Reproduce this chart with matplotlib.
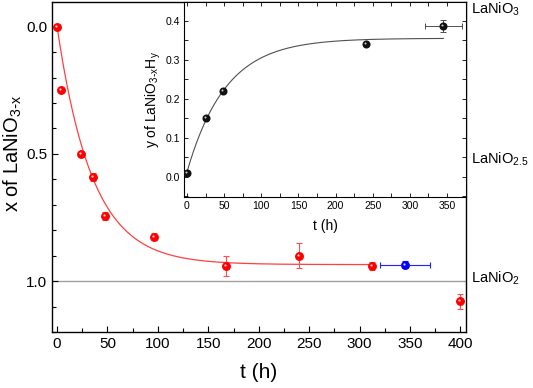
import matplotlib
matplotlib.use("Agg")
import matplotlib.pyplot as plt
import matplotlib.transforms as mtransforms
from matplotlib.ticker import MultipleLocator
import numpy as np

plt.rcParams['font.family'] = ['Liberation Sans', 'DejaVu Sans']
plt.rcParams['mathtext.default'] = 'regular'

# main panel: x of LaNiO3-x vs time
t_red = [0, 4, 24, 36, 48, 96, 168, 240, 312, 400]
x_red = [0.0, 0.25, 0.50, 0.59, 0.745, 0.825, 0.94, 0.90, 0.94, 1.08]
xerr_red = [0.0, 0.0, 0.0, 0.015, 0.015, 0.015, 0.04, 0.05, 0.015, 0.03]

t_blue = [345]
x_blue = [0.935]
terr_blue = [25]
xerr_blue = [0.015]

# exponential fit shown in the paper
fit_A = 0.935
fit_tau = 35.0
fit_tmax = 312

# inset: y of LaNiO3-xHy vs time
t_ins = [0, 25, 49, 241, 345]
y_ins = [0.01, 0.151, 0.22, 0.341, 0.387]
terr_ins = [0, 0, 0, 0, 25]
yerr_ins = [0, 0, 0, 0, 0.016]

ins_y0 = 0.012
ins_A = 0.343
ins_tau = 52.0
ins_tmax = 345

phases = ['LaNiO$_3$', 'LaNiO$_{2.5}$', 'LaNiO$_2$']
phase_pos = [-0.07, 0.52, 0.99]


def balls(ax, fig, x, y, color, ms):
    # shaded sphere look: coloured marker + small white highlight
    ax.plot(x, y, 'o', color=color, mec=color, ms=ms, zorder=5)
    tr = mtransforms.offset_copy(ax.transData, fig=fig, x=-1.0, y=1.0, units='dots')
    ax.plot(x, y, 'o', color='white', mec='none', ms=ms * 0.3, alpha=0.8, transform=tr, zorder=6)


fig = plt.figure(figsize=(5.33, 3.88), dpi=100)
ax = fig.add_axes([0.0976, 0.1443, 0.7767, 0.8505])

ax.axhline(1.0, color='#a0a0a0', lw=1.0, zorder=1)

tt = np.linspace(0, fit_tmax, 300)
ax.plot(tt, fit_A * (1 - np.exp(-tt / fit_tau)), color='#ff4040', lw=0.9, zorder=2)

ax.errorbar(t_red, x_red, yerr=xerr_red, fmt='none', ecolor='#ff5050', elinewidth=0.8,
            capsize=2.5, capthick=0.8, zorder=3)
ax.errorbar(t_blue, x_blue, xerr=terr_blue, yerr=xerr_blue, fmt='none', ecolor='#2020ff',
            elinewidth=0.8, capsize=2.5, capthick=0.8, zorder=3)
balls(ax, fig, t_red, x_red, '#ff0000', 5.4)
balls(ax, fig, t_blue, x_blue, '#0000ff', 5.4)

ax.set_xlim(-5, 405.5)
ax.set_ylim(1.2, -0.097)
ax.xaxis.set_major_locator(MultipleLocator(50))
ax.xaxis.set_minor_locator(MultipleLocator(25))
ax.yaxis.set_major_locator(MultipleLocator(0.5))
ax.yaxis.set_minor_locator(MultipleLocator(0.1))
ax.tick_params(which='both', direction='in', top=False, right=False, labelsize=11, width=0.8)
ax.tick_params(which='major', length=4)
ax.tick_params(which='minor', length=3)
for s in ax.spines.values():
    s.set_linewidth(1.0)
ax.set_xlabel('t (h)', fontsize=15, labelpad=9)
ax.set_ylabel('x of LaNiO$_{3\\text{-}x}$', fontsize=14.5)
ax.yaxis.set_label_coords(-0.068, 0.542)

tr_txt = mtransforms.blended_transform_factory(ax.transAxes, ax.transData)
for lab, pos in zip(phases, phase_pos):
    ax.text(1.013, pos, lab, transform=tr_txt, fontsize=10.5, va='center', ha='left', clip_on=False)

# inset
axi = fig.add_axes([0.3452, 0.4923, 0.5291, 0.5025])
axi.set_facecolor('white')
ti = np.linspace(0, ins_tmax, 300)
axi.plot(ti, ins_y0 + ins_A * (1 - np.exp(-ti / ins_tau)), color='#505050', lw=0.8, zorder=2)
axi.errorbar(t_ins, y_ins, xerr=terr_ins, yerr=yerr_ins, fmt='none', ecolor='#505050',
             elinewidth=0.7, capsize=2.2, capthick=0.7, zorder=3)
balls(axi, fig, t_ins, y_ins, '#111111', 4.8)

axi.set_xlim(-4, 375.5)
axi.set_ylim(-0.052, 0.448)
axi.xaxis.set_major_locator(MultipleLocator(50))
axi.xaxis.set_minor_locator(MultipleLocator(25))
axi.yaxis.set_major_locator(MultipleLocator(0.1))
axi.yaxis.set_minor_locator(MultipleLocator(0.05))
axi.tick_params(which='both', direction='in', top=True, right=True, labelsize=7.5, width=0.6,
                length=3, pad=3)
for s in axi.spines.values():
    s.set_linewidth(0.8)
axi.set_xlabel('t (h)', fontsize=10, labelpad=6)
axi.set_ylabel('y of LaNiO$_{3\\text{-}x}$H$_y$', fontsize=10, labelpad=2)

fig.savefig('out.png', dpi=100)
